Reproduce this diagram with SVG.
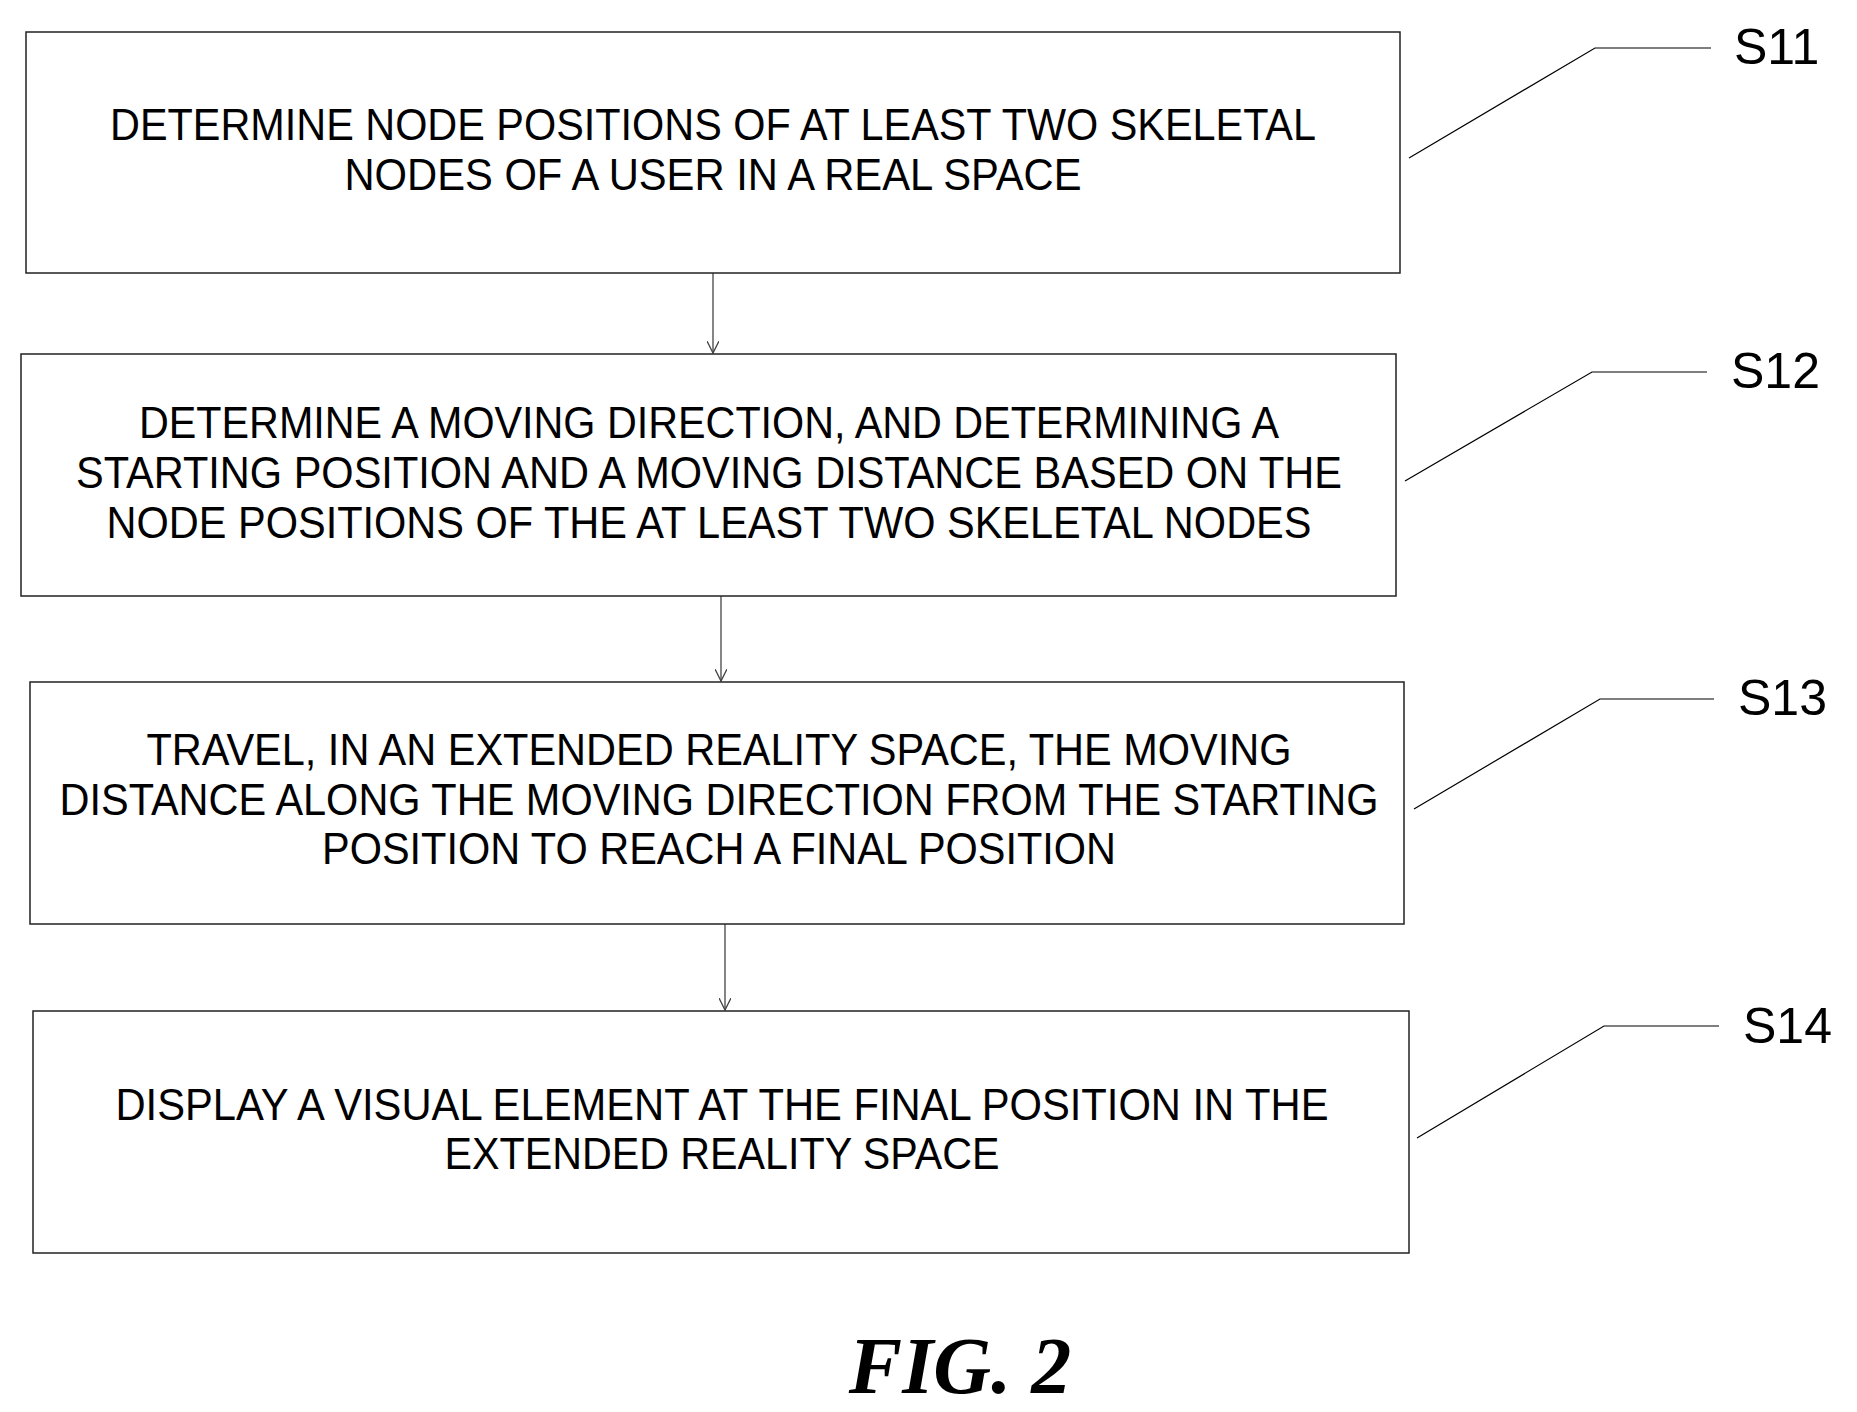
<svg xmlns="http://www.w3.org/2000/svg" width="1857" height="1412" viewBox="0 0 1857 1412">
<defs>
<style>
.box{fill:#fff;stroke:#222;stroke-width:1.5}
.t{font-family:"Liberation Sans",Arial,sans-serif;font-size:44px;fill:#000;text-anchor:middle}
.lbl{font-family:"Liberation Sans",Arial,sans-serif;font-size:50px;fill:#000}
.ld{fill:none;stroke:#000;stroke-width:1.2}
.c{stroke:#444;stroke-width:1.3;fill:none}
</style>
<marker id="ah" markerWidth="14" markerHeight="12" refX="12" refY="6" orient="auto" markerUnits="userSpaceOnUse"><path d="M0,0 L12,6 L0,12" fill="none" stroke="#444" stroke-width="1.3"/></marker>
</defs>
<rect width="1857" height="1412" fill="#fff"/>
<g id="connectors">
<line class="c" x1="713" y1="273" x2="713" y2="353" marker-end="url(#ah)"/>
<line class="c" x1="721" y1="596" x2="721" y2="681" marker-end="url(#ah)"/>
<line class="c" x1="725" y1="924" x2="725" y2="1010" marker-end="url(#ah)"/>
</g>
<g id="s11">
<rect class="box" x="26" y="32" width="1374" height="241"/>
<text class="t" x="713" y="140" textLength="1206" lengthAdjust="spacingAndGlyphs">DETERMINE NODE POSITIONS OF AT LEAST TWO SKELETAL</text>
<text class="t" x="713" y="190" textLength="737" lengthAdjust="spacingAndGlyphs">NODES OF A USER IN A REAL SPACE</text>
<polyline class="ld" points="1409,158 1595,48 1711,48"/>
<text class="lbl" x="1734" y="64">S11</text>
</g>
<g id="s12">
<rect class="box" x="21" y="354" width="1375" height="242"/>
<text class="t" x="709" y="438" textLength="1140" lengthAdjust="spacingAndGlyphs">DETERMINE A MOVING DIRECTION, AND DETERMINING A</text>
<text class="t" x="709" y="488" textLength="1266" lengthAdjust="spacingAndGlyphs">STARTING POSITION AND A MOVING DISTANCE BASED ON THE</text>
<text class="t" x="709" y="538" textLength="1205" lengthAdjust="spacingAndGlyphs">NODE POSITIONS OF THE AT LEAST TWO SKELETAL NODES</text>
<polyline class="ld" points="1405,481 1592,372 1707,372"/>
<text class="lbl" x="1731" y="388">S12</text>
</g>
<g id="s13">
<rect class="box" x="30" y="682" width="1374" height="242"/>
<text class="t" x="719" y="765" textLength="1145" lengthAdjust="spacingAndGlyphs">TRAVEL, IN AN EXTENDED REALITY SPACE, THE MOVING</text>
<text class="t" x="719" y="815" textLength="1319" lengthAdjust="spacingAndGlyphs">DISTANCE ALONG THE MOVING DIRECTION FROM THE STARTING</text>
<text class="t" x="719" y="864" textLength="794" lengthAdjust="spacingAndGlyphs">POSITION TO REACH A FINAL POSITION</text>
<polyline class="ld" points="1414,809 1600,699 1714,699"/>
<text class="lbl" x="1738" y="715">S13</text>
</g>
<g id="s14">
<rect class="box" x="33" y="1011" width="1376" height="242"/>
<text class="t" x="722" y="1120" textLength="1213" lengthAdjust="spacingAndGlyphs">DISPLAY A VISUAL ELEMENT AT THE FINAL POSITION IN THE</text>
<text class="t" x="722" y="1169" textLength="555" lengthAdjust="spacingAndGlyphs">EXTENDED REALITY SPACE</text>
<polyline class="ld" points="1417,1138 1604,1026 1719,1026"/>
<text class="lbl" x="1743" y="1043">S14</text>
</g>
<text x="960" y="1393" font-family="'Liberation Serif','Times New Roman',serif" font-size="80" font-weight="bold" font-style="italic" text-anchor="middle">FIG. 2</text>
</svg>
